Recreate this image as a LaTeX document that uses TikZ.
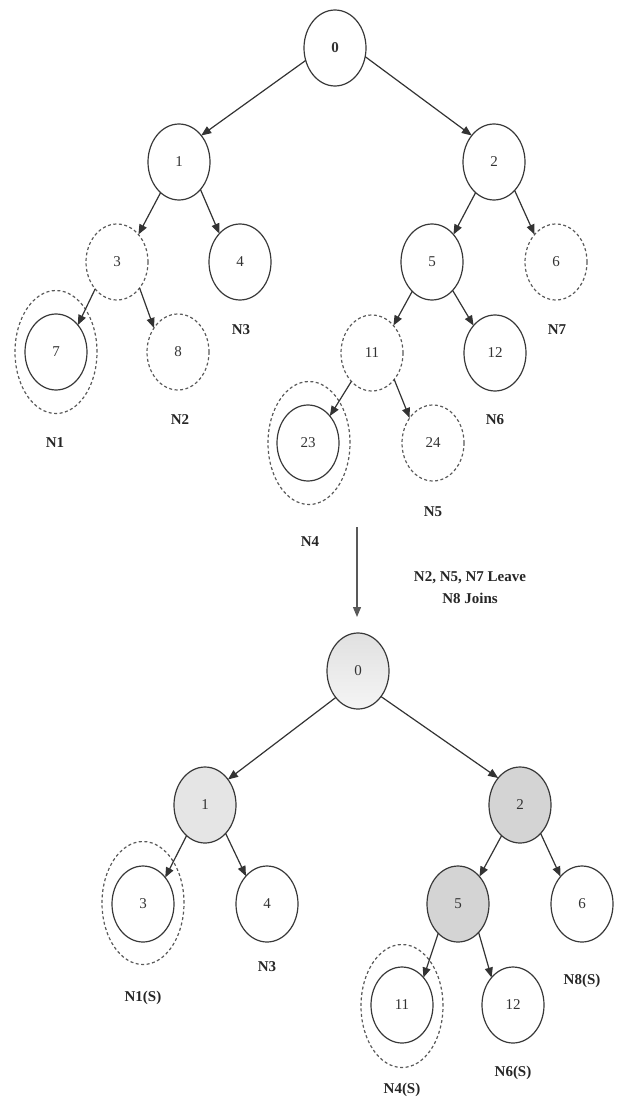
\documentclass[tikz,border=0pt]{standalone}
\usepackage{fontspec}
\setmainfont{Liberation Serif}
\usetikzlibrary{shapes.geometric,arrows.meta}
\begin{document}
\begin{tikzpicture}[x=1pt,y=-1pt,
  nd/.style={ellipse,draw=black!78,line width=1.2pt,minimum width=62pt,minimum height=76pt,inner sep=0pt,outer sep=0pt,font=\fontsize{15}{15}\selectfont,text=black!80},
  dnd/.style={nd,draw=black!65,dash pattern=on 3pt off 2.5pt},
  ring/.style={ellipse,draw=black!65,line width=1.2pt,dash pattern=on 3pt off 2.5pt,minimum width=82pt,minimum height=123pt,inner sep=0pt,outer sep=0pt},
  edge/.style={draw=black!80,line width=1.2pt,-{Triangle[length=10pt,width=8pt]}},
  lbl/.style={font=\fontsize{15}{15}\selectfont\bfseries,text=black!85},
  fa/.style={fill=black!10},
  fb/.style={fill=black!17}
]
\useasboundingbox (0,0) rectangle (619,1097);
% ---------- top tree ----------
\node[nd,font=\fontsize{15}{15}\selectfont\bfseries] (t0) at (335,48) {0};
\node[nd] (t1) at (179,162) {1};
\node[nd] (t2) at (494,162) {2};
\node[dnd] (t3) at (117,262) {3};
\node[nd] (t4) at (240,262) {4};
\node[nd] (t5) at (432,262) {5};
\node[dnd] (t6) at (556,262) {6};
\node[nd] (t7) at (56,352) {7};
\node[ring] (r7) at (56,352) {};
\node[dnd] (t8) at (178,352) {8};
\node[dnd] (t11) at (372,353) {11};
\node[nd] (t12) at (495,353) {12};
\node[nd] (t23) at (308,443) {23};
\node[ring] (r23) at (309,443) {};
\node[dnd] (t24) at (433,443) {24};

\draw[edge] (t0.203) -- (t1.50);
\draw[edge] (t0.344) -- (t2.130);
\draw[edge] (t1.239) -- (t3.52);
\draw[edge] (t1.308) -- (t4.126);
\draw[edge] (t2.239) -- (t5.52);
\draw[edge] (t2.306) -- (t6.128);
\draw[edge] (t3.231) -- (t7.51);
\draw[edge] (t3.311) -- (t8.135);
\draw[edge] (t5.236) -- (t11.52);
\draw[edge] (t5.306) -- (t12.128);
\draw[edge] (t11.234) -- (t23.51);
\draw[edge] (t11.310) -- (t24.133);

\node[lbl] (l1) at (55,443) {N1};
\node[lbl] (l2) at (180,420) {N2};
\node[lbl] (l3) at (241,330) {N3};
\node[lbl] (l4) at (310,542) {N4};
\node[lbl] (l5) at (433,512) {N5};
\node[lbl] (l6) at (495,420) {N6};
\node[lbl] (l7) at (557,330) {N7};

% ---------- transition ----------
\coordinate (a1) at (357,527);
\coordinate (a2) at (357,617);
\draw[edge,draw=black!65] (a1) -- (a2);
\node[lbl] (msg1) at (470,578) {N2, N5, N7 Leave};
\node[lbl] (msg2) at (470,598) {N8 Joins};

% ---------- bottom tree ----------
\node[nd,top color=black!12,bottom color=black!4] (b0) at (358,671) {0};
\node[nd,fa] (b1) at (205,805) {1};
\node[nd,fb] (b2) at (520,805) {2};
\node[nd] (b3) at (143,904) {3};
\node[ring] (rb3) at (143,903) {};
\node[nd] (b4) at (267,904) {4};
\node[nd,fb] (b5) at (458,904) {5};
\node[nd] (b6) at (582,904) {6};
\node[nd] (b11) at (402,1005) {11};
\node[ring] (rb11) at (402,1006) {};
\node[nd] (b12) at (513,1005) {12};

\draw[edge] (b0.230) -- (b1.48);
\draw[edge] (b0.312) -- (b2.129);
\draw[edge] (b1.239) -- (b3.50);
\draw[edge] (b1.306) -- (b4.127);
\draw[edge] (b2.239) -- (b5.52);
\draw[edge] (b2.306) -- (b6.128);
\draw[edge] (b5.236) -- (b11.52);
\draw[edge] (b5.306) -- (b12.128);

\node[lbl] (m1) at (143,998) {N1(S)};
\node[lbl] (m3) at (267,967) {N3};
\node[lbl] (m8) at (582,981) {N8(S)};
\node[lbl] (m6) at (513,1073) {N6(S)};
\node[lbl] (m4) at (402,1090) {N4(S)};
\end{tikzpicture}
\end{document}
